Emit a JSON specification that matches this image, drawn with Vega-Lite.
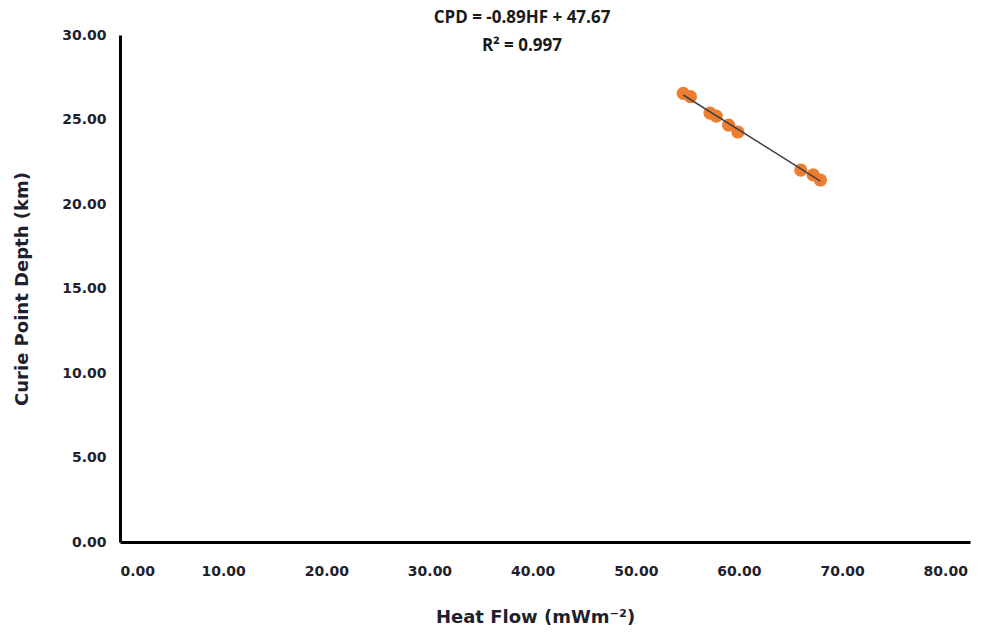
{
  "$schema": "https://vega.github.io/schema/vega-lite/v6.json",
  "width": 850,
  "height": 507,
  "autosize": "none",
  "padding": {"left": 120, "top": 35, "right": 21, "bottom": 92},
  "background": "white",
  "title": {
    "text": "CPD = -0.89HF + 47.67",
    "subtitle": "R² = 0.997",
    "anchor": "middle",
    "dx": -23,
    "offset": -27,
    "font": "Open Sans",
    "fontSize": 17,
    "fontWeight": "bold",
    "color": "#1a1a1a",
    "subtitleFont": "Open Sans",
    "subtitleFontSize": 17,
    "subtitleFontWeight": "bold",
    "subtitleColor": "#1a1a1a",
    "subtitlePadding": 11
  },
  "config": {
    "view": {"stroke": null},
    "axis": {
      "grid": false,
      "ticks": false,
      "domainColor": "black",
      "domainWidth": 3,
      "labelFont": "DejaVu Sans",
      "labelFontWeight": "bold",
      "labelFontSize": 14,
      "labelColor": "#1f1f2e",
      "titleFont": "DejaVu Sans",
      "titleFontWeight": "bold",
      "titleFontSize": 18,
      "titleColor": "#1f1f2e"
    }
  },
  "datasets": {
    "pts": [
      {"hf": 54.6, "cpd": 26.55},
      {"hf": 55.3, "cpd": 26.35},
      {"hf": 57.2, "cpd": 25.38},
      {"hf": 57.8, "cpd": 25.2},
      {"hf": 59.0, "cpd": 24.67},
      {"hf": 59.9, "cpd": 24.26},
      {"hf": 66.0, "cpd": 22.01},
      {"hf": 67.2, "cpd": 21.72},
      {"hf": 67.9, "cpd": 21.42}
    ],
    "trend": [
      {"hf": 54.6, "cpd": 26.45},
      {"hf": 67.9, "cpd": 21.35}
    ]
  },
  "layer": [
    {
      "data": {"name": "pts"},
      "mark": {"type": "circle", "size": 175, "color": "#ED7D31", "opacity": 1},
      "encoding": {
        "x": {
          "field": "hf", "type": "quantitative",
          "scale": {"domain": [0, 82.4], "nice": false, "zero": false},
          "axis": {
            "values": [0, 10, 20, 30, 40, 50, 60, 70, 80],
            "format": ".2f",
            "labelPadding": 22,
            "title": "Heat Flow (mWm⁻²)",
            "titlePadding": 30,
            "titleX": 415
          }
        },
        "y": {
          "field": "cpd", "type": "quantitative",
          "scale": {"domain": [0, 30], "nice": false},
          "axis": {
            "values": [0, 5, 10, 15, 20, 25, 30],
            "format": ".2f",
            "labelPadding": 14,
            "title": "Curie Point Depth (km)",
            "titlePadding": 30
          }
        }
      }
    },
    {
      "data": {"name": "trend"},
      "mark": {"type": "line", "color": "#404040", "strokeWidth": 1.5},
      "encoding": {
        "x": {"field": "hf", "type": "quantitative"},
        "y": {"field": "cpd", "type": "quantitative"}
      }
    }
  ]
}
